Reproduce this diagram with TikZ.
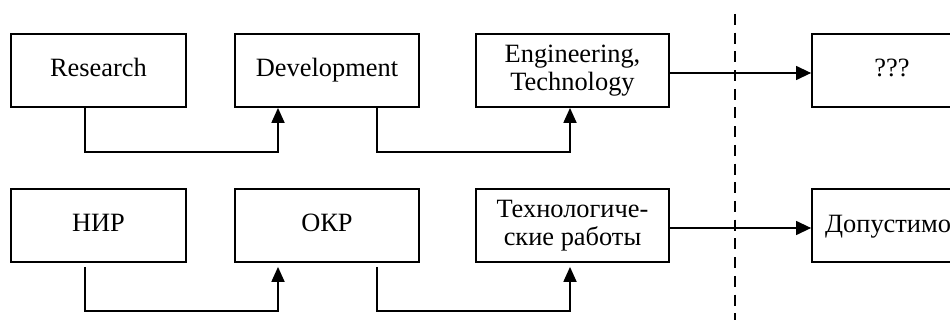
\documentclass[tikz,border=0pt]{standalone}
\usepackage{fontspec}
\setmainfont{Liberation Serif}
\usetikzlibrary{arrows.meta}
\tikzset{
  stage/.style={draw, line width=1.8pt, rectangle, minimum height=73pt,
    inner sep=2pt, align=center, font=\fontsize{26.4}{28}\selectfont},
  oneline/.style={text height=18.5pt, text depth=5.5pt},
  feed/.style={line width=1.8pt, -{Triangle[length=15pt,width=13pt]}},
  outflow/.style={line width=1.3pt, -{Triangle[length=15pt,width=14pt]}},
  border/.style={line width=1.8pt, dash pattern=on 11pt off 7.7pt}
}
\begin{document}
\begin{tikzpicture}[x=1pt, y=-1pt]
  \useasboundingbox (0,0) rectangle (950,320);
  \clip (0,0) rectangle (950,320);

  % upper row: English terms
  \node[stage, oneline, minimum width=175pt] (r1) at (98.5,70.5) {Research};
  \node[stage, oneline, minimum width=184pt] (r2) at (327,70.5) {Development};
  \node[stage, minimum width=193pt] (r3) at (572.5,70.5) {Engineering,\\Technology};
  \node[stage, oneline, minimum width=160pt] (r4) at (892,70.5) {???};

  % lower row: Russian terms
  \node[stage, oneline, minimum width=175pt] (n1) at (98.5,225.5) {НИР};
  \node[stage, oneline, minimum width=184pt] (n2) at (327,225.5) {ОКР};
  \node[stage, minimum width=193pt] (n3) at (572.5,225.5) {Технологиче-\\ские работы};
  \node[stage, minimum width=160pt] (n4) at (892,225.5) {};
  \node[anchor=base west, inner sep=0pt, font=\fontsize{26.4}{28}\selectfont]
    (n4t) at (825,233) {Допустимо};

  % boundary
  \coordinate (dtop) at (735,14);
  \coordinate (dbot) at (735,320);
  \draw[border] (dtop) -- (dbot);

  % upper row connectors
  \draw[feed] ([xshift=-13.5pt]r1.south) -- ++(0,44) -| ([xshift=-49pt]r2.south);
  \draw[feed] ([xshift=50pt]r2.south) -- ++(0,44) -| ([xshift=-2.5pt]r3.south);
  \draw[outflow] ([yshift=-2.5pt]r3.east) -- ([yshift=-2.5pt]r4.west);

  % lower row connectors
  \draw[feed] ([xshift=-13.5pt,yshift=-4pt]n1.south) -- ++(0,44) -| ([xshift=-49pt,yshift=-4pt]n2.south);
  \draw[feed] ([xshift=50pt,yshift=-4pt]n2.south) -- ++(0,44) -| ([xshift=-2.5pt,yshift=-4pt]n3.south);
  \draw[outflow] ([yshift=-2.5pt]n3.east) -- ([yshift=-2.5pt]n4.west);
\end{tikzpicture}
\end{document}
